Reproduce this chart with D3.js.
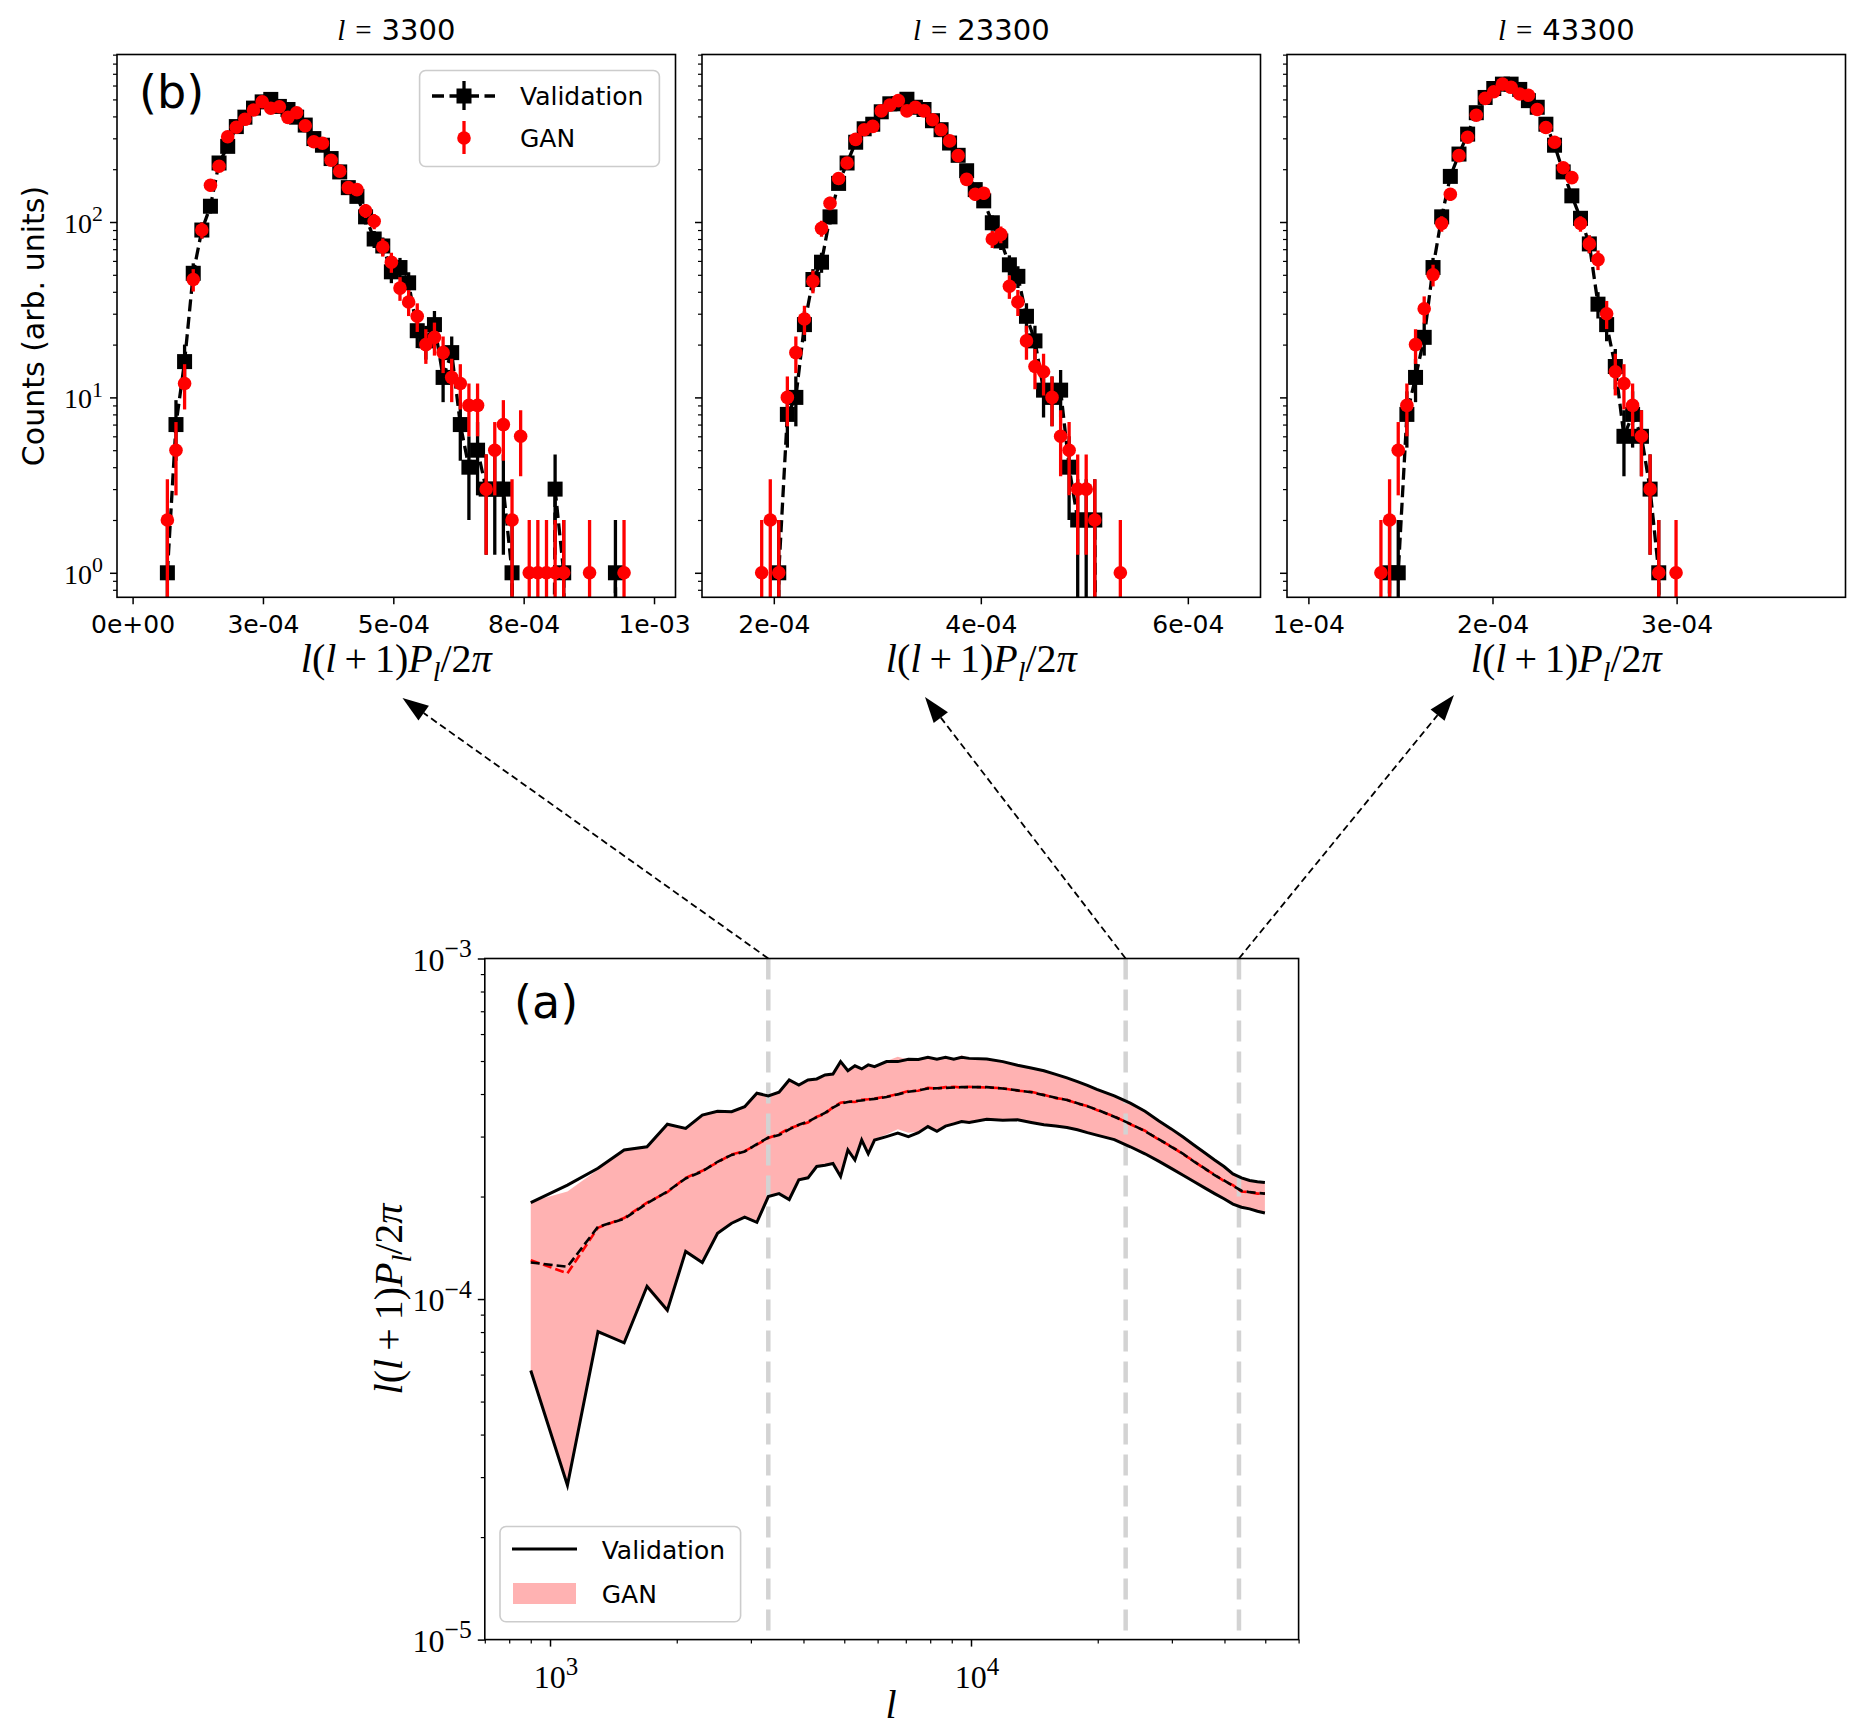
<!DOCTYPE html>
<html><head><meta charset="utf-8">
<script src="https://cdn.jsdelivr.net/npm/d3@7"></script>
<style>body{margin:0;background:#fff}svg{display:block}</style>
</head><body>
<svg id="c" width="1867" height="1731"></svg>
<script>
// ---------------- DATA ----------------
// (b) histograms: bin centres in units of 1e-4, counts per bin
const binUnit = 1e-4;
const panelTitles = ["3300", "23300", "43300"];
const p1Bins = [0.667,0.832,0.997,1.163,1.328,1.493,1.658,1.824,1.989,2.154,
  2.319,2.485,2.650,2.815,2.980,3.146,3.311,3.476,3.641,3.807,
  3.972,4.137,4.302,4.468,4.633,4.798,4.963,5.128,5.294,5.459,
  5.624,5.789,5.955,6.120,6.285,6.450,6.616,6.781,6.946,7.111,
  7.277,7.442,7.607,7.772,7.938,8.103,8.268,8.433,8.599,8.764,
  8.929,9.094,9.260,9.425];
const p1Val = [1,7,16,51,90,123,217,270,350,396,
  446,484,500,456,438,396,357,299,274,230,
  193,157,140,107,80,73,52,55,45,24,
  21,26,13,18,7,4,5,3,3,3,
  1,0,0,0,0,3,1,0,0,0,
  0,0,1,0];
const p1Gan = [2,5,12,47,90,162,208,306,347,385,
  435,485,445,454,395,420,354,287,281,225,
  195,157,153,116,101,72,59,42,35,29,
  20,22,18,13,12,9,9,3,5,7,
  2,6,1,1,1,1,1,0,0,1,
  0,0,0,1];
const p2Bins = [1.883,1.966,2.048,2.131,2.213,2.296,2.378,2.461,2.543,2.626,
  2.708,2.791,2.873,2.956,3.038,3.121,3.203,3.286,3.368,3.451,
  3.533,3.616,3.698,3.781,3.863,3.946,4.028,4.111,4.193,4.276,
  4.358,4.441,4.523,4.606,4.688,4.771,4.853,4.936,5.018,5.101,
  5.183,5.266,5.348];
const p2Val = [0,0,1,8,10,26,47,59,107,166,
  217,285,340,361,425,472,472,501,451,438,
  378,336,282,240,196,153,132,99,78,57,
  49,29,21,11,10,11,4,2,2,2,
  0,0,0];
const p2Gan = [1,2,1,10,18,28,46,92,128,177,
  217,296,336,351,430,464,492,430,451,430,
  383,336,290,239,175,144,146,80,85,43,
  35,21,15,14,10,6,5,3,3,2,
  0,0,1];
const p3Bins = [1.394,1.441,1.488,1.535,1.582,1.629,1.677,1.724,1.771,1.818,
  1.865,1.912,1.960,2.007,2.054,2.101,2.148,2.195,2.243,2.290,
  2.337,2.384,2.431,2.478,2.526,2.573,2.620,2.667,2.714,2.761,
  2.809,2.856,2.903,2.950,2.997];
const p3Val = [0,1,1,8,13,22,55,107,182,244,
  317,420,513,577,611,611,570,492,451,361,
  274,193,141,105,75,34,26,15,6,8,
  6,3,1,0,0];
const p3Gan = [1,2,5,9,20,32,50,98,144,239,
  304,406,507,553,611,586,537,528,438,346,
  285,204,179,98,75,61,30,14,12,9,
  6,3,1,0,1];
const p1TickVals = [0, 2.5e-4, 5e-4, 7.5e-4, 1e-3];
const p1TickLabels = ["0e+00","3e-04","5e-04","8e-04","1e-03"];
const p2TickVals = [2e-4, 4e-4, 6e-4];
const p2TickLabels = ["2e-04","4e-04","6e-04"];
const p3TickVals = [1e-4, 2e-4, 3e-4];
const p3TickLabels = ["1e-04","2e-04","3e-04"];

// (a) power spectrum: multipoles l and bands (units of 1e-4)
const specUnit = 1e-4;
const ells = [900,1100,1300,1500,1700,1900,2100,2300,2500,2700,
  2900,3100,3300,3500,3700,3900,4100,4300,4500,4700,
  4900,5100,5300,5500,5700,5900,6300,6700,7100,7500,
  7900,8300,8700,9100,9500,9900,10900,11900,12900,13900,
  14900,15900,16900,17900,18900,19900,21900,23900,25900,27900,
  29900,31900,33900,35900,37900,39900,41900,43900,45900,47900,
  49900];
const valHi = [1.92,2.16,2.42,2.74,2.80,3.26,3.17,3.47,3.56,3.55,
  3.67,4.02,3.95,4.05,4.40,4.25,4.40,4.43,4.55,4.58,
  4.98,4.68,4.84,4.74,4.87,4.81,4.98,4.98,5.06,5.05,
  5.13,5.06,5.13,5.06,5.13,5.09,5.07,4.98,4.86,4.77,
  4.68,4.57,4.46,4.35,4.24,4.13,3.95,3.76,3.56,3.34,
  3.16,2.99,2.83,2.69,2.56,2.45,2.33,2.27,2.23,2.21,
  2.20];
const valLo = [0.617,0.284,0.802,0.744,1.09,0.928,1.38,1.28,1.56,1.67,
  1.74,1.68,2.00,2.04,1.96,2.24,2.27,2.45,2.47,2.50,
  2.29,2.74,2.56,2.93,2.67,2.93,3.00,3.07,3.00,3.08,
  3.21,3.11,3.22,3.27,3.32,3.30,3.37,3.35,3.36,3.30,
  3.25,3.22,3.19,3.14,3.08,3.03,2.94,2.80,2.67,2.54,
  2.42,2.31,2.21,2.12,2.04,1.97,1.90,1.86,1.84,1.81,
  1.79];
const valMed = [1.28,1.245,1.63,1.72,1.91,2.07,2.26,2.37,2.53,2.65,
  2.71,2.85,2.98,3.03,3.15,3.25,3.32,3.42,3.52,3.65,
  3.75,3.79,3.81,3.83,3.85,3.87,3.92,3.99,4.06,4.10,
  4.15,4.16,4.17,4.18,4.19,4.19,4.19,4.15,4.10,4.05,
  3.97,3.90,3.84,3.76,3.68,3.60,3.43,3.27,3.11,2.95,
  2.80,2.67,2.53,2.42,2.31,2.23,2.15,2.08,2.06,2.05,
  2.04];
const ganHi = [1.93,2.07,2.40,2.76,2.82,3.24,3.20,3.45,3.58,3.53,
  3.69,4.00,3.97,4.08,4.37,4.28,4.42,4.45,4.52,4.60,
  4.95,4.71,4.86,4.77,4.85,4.84,5.00,5.15,5.04,5.08,
  5.11,5.10,5.15,5.08,5.20,5.10,5.05,4.99,4.88,4.76,
  4.67,4.56,4.46,4.36,4.25,4.12,3.94,3.76,3.57,3.35,
  3.16,2.99,2.83,2.69,2.57,2.45,2.34,2.27,2.23,2.21,
  2.20];
const ganLo = [0.615,0.290,0.790,0.750,1.07,0.910,1.36,1.30,1.54,1.69,
  1.72,1.70,1.98,2.06,1.98,2.22,2.29,2.43,2.49,2.48,
  2.31,2.72,2.60,2.90,2.71,2.95,3.04,3.15,3.08,3.10,
  3.19,3.14,3.20,3.29,3.30,3.32,3.36,3.37,3.34,3.31,
  3.26,3.21,3.20,3.13,3.09,3.02,2.95,2.79,2.68,2.53,
  2.43,2.30,2.22,2.11,2.04,1.96,1.91,1.85,1.83,1.81,
  1.78];
const ganMed = [1.30,1.19,1.62,1.73,1.92,2.06,2.27,2.38,2.52,2.66,
  2.72,2.84,2.97,3.05,3.17,3.24,3.30,3.43,3.50,3.66,
  3.77,3.80,3.79,3.85,3.86,3.88,3.93,4.00,4.08,4.09,
  4.17,4.15,4.19,4.20,4.18,4.20,4.18,4.16,4.09,4.06,
  3.98,3.89,3.85,3.75,3.69,3.59,3.44,3.26,3.12,2.94,
  2.81,2.66,2.54,2.41,2.32,2.22,2.16,2.07,2.06,2.04,
  2.04];
const markedEll = [3300, 23300, 43300];
const legendLabels = ["Validation", "GAN"];

// ---------------- DRAWING ----------------
const SANS = "DejaVu Sans", SERIF = "Liberation Serif";
const svg = d3.select("#c");
svg.append("rect").attr("width",1867).attr("height",1731).attr("fill","#fff");
const defs = svg.append("defs");

function mathText(g, x, y, size, parts, anchor, transform, supScale) {
  const ss = supScale || 0.7;
  const t = g.append("text").attr("x", x).attr("y", y).attr("font-size", size)
    .attr("font-family", SERIF).attr("text-anchor", anchor || "middle").attr("fill", "#000");
  if (transform) t.attr("transform", transform);
  let shift = 0;
  parts.forEach(p => {
    const ts = t.append("tspan").text(p.t);
    const target = p.sub ? size * 0.22 : (p.sup ? -size * 0.42 : 0);
    if (target !== shift) { ts.attr("dy", target - shift); shift = target; }
    if (p.i) ts.attr("font-style", "italic");
    if (p.sub || p.sup) ts.attr("font-size", size * ss);
    if (p.f) ts.attr("font-family", p.f);
    if (p.dx) ts.attr("dx", p.dx);
  });
  return t;
}
const xLabelParts = [{t:"l",i:true},{t:"("},{t:"l",i:true},{t:"+",dx:8},{t:"1)",dx:8},
  {t:"P",i:true},{t:"l",i:true,sub:true},{t:"/2"},{t:"π",i:true}];

function minorLog(dom, subs) {
  const out = [];
  for (let e = -8; e <= 6; e++) for (const s of subs) {
    const v = s * Math.pow(10, e);
    if (v >= dom[0] * 0.999 && v <= dom[1] * 1.001) out.push(v);
  }
  return out;
}
function styleAxis(g, w) {
  g.select(".domain").remove();
  g.selectAll(".tick line").attr("stroke", "#000").attr("stroke-width", w || 1.5);
}

// ---- top panels ----
const topY0 = 597.3, topY1 = 54.5;
const topYDom = [0.7249, 901.6];
const panels = [
  {x0:117, x1:675.5, dom:[-2.992e-5, 1.0412e-3], tv:p1TickVals, tl:p1TickLabels, bins:p1Bins, val:p1Val, gan:p1Gan},
  {x0:702, x1:1260.5, dom:[1.3063e-4, 6.702e-4], tv:p2TickVals, tl:p2TickLabels, bins:p2Bins, val:p2Val, gan:p2Gan},
  {x0:1287, x1:1845.5, dom:[0.8838e-4, 3.9174e-4], tv:p3TickVals, tl:p3TickLabels, bins:p3Bins, val:p3Val, gan:p3Gan}
];
const BLACK = "#000", RED = "#ff0000";

panels.forEach((p, pi) => {
  const g = svg.append("g");
  const x = d3.scaleLinear().domain(p.dom).range([p.x0, p.x1]);
  const y = d3.scaleLog().domain(topYDom).range([topY0, topY1]);
  const cid = "clipTop" + pi;
  defs.append("clipPath").attr("id", cid).append("rect")
    .attr("x", p.x0).attr("y", topY1).attr("width", p.x1 - p.x0).attr("height", topY0 - topY1);
  const pg = g.append("g").attr("clip-path", `url(#${cid})`);
  const yc = c => y(c > 0 ? c : 1e-8);
  const valPts = p.bins.map((b, i) => ({x: b * binUnit, c: p.val[i]}));
  const ganPts = p.bins.map((b, i) => ({x: b * binUnit, c: p.gan[i]}));
  // validation
  pg.append("path").datum(valPts)
    .attr("d", d3.line().x(d => x(d.x)).y(d => yc(d.c)))
    .attr("fill", "none").attr("stroke", BLACK).attr("stroke-width", 3.3).attr("stroke-dasharray", "12,5.5");
  pg.selectAll(".ebv").data(valPts.filter(d => d.c > 0)).join("line")
    .attr("x1", d => x(d.x)).attr("x2", d => x(d.x))
    .attr("y1", d => yc(d.c - Math.sqrt(d.c))).attr("y2", d => yc(d.c + Math.sqrt(d.c)))
    .attr("stroke", BLACK).attr("stroke-width", 3.3);
  pg.selectAll(".sqv").data(valPts.filter(d => d.c > 0)).join("rect")
    .attr("x", d => x(d.x) - 7.5).attr("y", d => yc(d.c) - 7.5).attr("width", 15).attr("height", 15)
    .attr("fill", BLACK);
  // GAN
  pg.selectAll(".ebg").data(ganPts.filter(d => d.c > 0)).join("line")
    .attr("x1", d => x(d.x)).attr("x2", d => x(d.x))
    .attr("y1", d => yc(d.c - Math.sqrt(d.c))).attr("y2", d => yc(d.c + Math.sqrt(d.c)))
    .attr("stroke", RED).attr("stroke-width", 3.3);
  pg.selectAll(".cg").data(ganPts.filter(d => d.c > 0)).join("circle")
    .attr("cx", d => x(d.x)).attr("cy", d => yc(d.c)).attr("r", 6.8).attr("fill", RED);
  // frame
  g.append("rect").attr("x", p.x0).attr("y", topY1).attr("width", p.x1 - p.x0).attr("height", topY0 - topY1)
    .attr("fill", "none").attr("stroke", "#000").attr("stroke-width", 1.6);
  // x axis
  const xa = g.append("g").attr("transform", `translate(0,${topY0})`)
    .call(d3.axisBottom(x).tickValues(p.tv).tickSize(7).tickPadding(11).tickFormat((d, i) => p.tl[i]));
  styleAxis(xa);
  xa.selectAll("text").attr("font-family", SANS).attr("font-size", 25).attr("fill", "#000");
  // y axis
  const ya = g.append("g").attr("transform", `translate(${p.x0},0)`)
    .call(d3.axisLeft(y).tickValues([1, 10, 100]).tickSize(7).tickFormat(""));
  styleAxis(ya);
  const ym = g.append("g").attr("transform", `translate(${p.x0},0)`)
    .call(d3.axisLeft(y).tickValues(minorLog(topYDom, [2,3,4,5,6,7,8,9])).tickSize(4).tickFormat(""));
  styleAxis(ym, 1.2);
  if (pi === 0) {
    [[1,"0"],[10,"1"],[100,"2"]].forEach(([v, e]) => {
      mathText(g, p.x0 - 14, y(v) + 11, 28, [{t:"10"},{t:e,sup:true}], "end", null, 0.78);
    });
  }
  // title
  const cx = (p.x0 + p.x1) / 2;
  mathText(g, cx, 40, 29, [{t:"l",i:true},{t:"=",dx:10},{t:panelTitles[pi],f:SANS,dx:10}]);
  // x label
  mathText(g, cx, 672, 40, xLabelParts);
});

// (b) label
svg.append("text").attr("x", 139).attr("y", 108).attr("font-family", SANS).attr("font-size", 46).text("(b)");
// top y label
svg.append("text").attr("transform", "translate(44,326) rotate(-90)").attr("text-anchor", "middle")
  .attr("font-family", SANS).attr("font-size", 30).text("Counts (arb. units)");
// top legend
{
  const lg = svg.append("g");
  lg.append("rect").attr("x", 419.6).attr("y", 70.5).attr("width", 239.8).attr("height", 96).attr("rx", 6)
    .attr("fill", "#fff").attr("fill-opacity", 0.8).attr("stroke", "#cccccc").attr("stroke-width", 1.6);
  lg.append("line").attr("x1", 432).attr("x2", 495).attr("y1", 96).attr("y2", 96)
    .attr("stroke", BLACK).attr("stroke-width", 3.3).attr("stroke-dasharray", "12,5.5");
  lg.append("line").attr("x1", 464).attr("x2", 464).attr("y1", 81).attr("y2", 110).attr("stroke", BLACK).attr("stroke-width", 3.3);
  lg.append("rect").attr("x", 456.5).attr("y", 88.5).attr("width", 15).attr("height", 15).attr("fill", BLACK);
  lg.append("line").attr("x1", 464).attr("x2", 464).attr("y1", 121).attr("y2", 154).attr("stroke", RED).attr("stroke-width", 3.3);
  lg.append("circle").attr("cx", 464).attr("cy", 138).attr("r", 6.8).attr("fill", RED);
  lg.append("text").attr("x", 520).attr("y", 105).attr("font-family", SANS).attr("font-size", 25).text(legendLabels[0]);
  lg.append("text").attr("x", 520).attr("y", 147).attr("font-family", SANS).attr("font-size", 25).text(legendLabels[1]);
}

// ---- bottom panel ----
const bx0 = 484.8, bx1 = 1298.6, by0 = 1639.6, by1 = 958.5;
const xb = d3.scaleLog().domain([700, 60000]).range([bx0, bx1]);
const yb = d3.scaleLog().domain([1e-5, 1e-3]).range([by0, by1]);
const bg = svg.append("g");
defs.append("clipPath").attr("id", "clipB").append("rect")
  .attr("x", bx0).attr("y", by1).attr("width", bx1 - bx0).attr("height", by0 - by1);
const bp = bg.append("g").attr("clip-path", "url(#clipB)");
const spec = ells.map((l, i) => ({l, vh: valHi[i]*specUnit, vl: valLo[i]*specUnit, vm: valMed[i]*specUnit,
  gh: ganHi[i]*specUnit, gl: ganLo[i]*specUnit, gm: ganMed[i]*specUnit}));
bp.append("path").datum(spec)
  .attr("d", d3.area().x(d => xb(d.l)).y0(d => yb(d.gl)).y1(d => yb(d.gh)))
  .attr("fill", "rgba(255,0,0,0.3)").attr("stroke", "none");
markedEll.forEach(l => {
  bp.append("line").attr("x1", xb(l)).attr("x2", xb(l)).attr("y1", by1).attr("y2", by0)
    .attr("stroke", "#d3d3d3").attr("stroke-width", 4.5).attr("stroke-dasharray", "21,10");
});
const ln = key => d3.line().x(d => xb(d.l)).y(d => yb(d[key]));
bp.append("path").datum(spec).attr("d", ln("gm")).attr("fill", "none")
  .attr("stroke", RED).attr("stroke-width", 2.6).attr("stroke-dasharray", "9,4");
bp.append("path").datum(spec).attr("d", ln("vm")).attr("fill", "none")
  .attr("stroke", BLACK).attr("stroke-width", 2.6).attr("stroke-dasharray", "9,4");
["vh", "vl"].forEach(k => bp.append("path").datum(spec).attr("d", ln(k)).attr("fill", "none")
  .attr("stroke", BLACK).attr("stroke-width", 3).attr("stroke-linejoin", "miter"));
bg.append("rect").attr("x", bx0).attr("y", by1).attr("width", bx1 - bx0).attr("height", by0 - by1)
  .attr("fill", "none").attr("stroke", "#000").attr("stroke-width", 1.6);
// axes
const bxa = bg.append("g").attr("transform", `translate(0,${by0})`)
  .call(d3.axisBottom(xb).tickValues([1000, 10000]).tickSize(7).tickFormat(""));
styleAxis(bxa);
const bxm = bg.append("g").attr("transform", `translate(0,${by0})`)
  .call(d3.axisBottom(xb).tickValues(minorLog([700, 60000], [2,3,4,5,6,7,8,9]).filter(v => v >= 700)).tickSize(4).tickFormat(""));
styleAxis(bxm, 1.2);
const bya = bg.append("g").attr("transform", `translate(${bx0},0)`)
  .call(d3.axisLeft(yb).tickValues([1e-5, 1e-4, 1e-3]).tickSize(7).tickFormat(""));
styleAxis(bya);
const bym = bg.append("g").attr("transform", `translate(${bx0},0)`)
  .call(d3.axisLeft(yb).tickValues(minorLog([1e-5, 1e-3], [2,3,4,5,6,7,8,9])).tickSize(4).tickFormat(""));
styleAxis(bym, 1.2);
[[1000,"3"],[10000,"4"]].forEach(([v, e]) => mathText(bg, xb(v) + 6, 1688, 32, [{t:"10"},{t:e,sup:true}], "middle", null, 0.78));
[[1e-3,"−3"],[1e-4,"−4"],[1e-5,"−5"]].forEach(([v, e]) => mathText(bg, bx0 - 13, yb(v) + 12, 32, [{t:"10"},{t:e,sup:true}], "end", null, 0.8));
mathText(bg, 891, 1718, 40, [{t:"l",i:true}]);
mathText(bg, 0, 0, 40, xLabelParts, "middle", "translate(402,1299) rotate(-90)");
bg.append("text").attr("x", 514).attr("y", 1018).attr("font-family", SANS).attr("font-size", 46).text("(a)");
// bottom legend
{
  const lg = bg.append("g");
  lg.append("rect").attr("x", 500).attr("y", 1526.5).attr("width", 240.6).attr("height", 95.2).attr("rx", 6)
    .attr("fill", "#fff").attr("fill-opacity", 0.8).attr("stroke", "#cccccc").attr("stroke-width", 1.6);
  lg.append("line").attr("x1", 512).attr("x2", 577).attr("y1", 1549).attr("y2", 1549).attr("stroke", BLACK).attr("stroke-width", 3);
  lg.append("rect").attr("x", 513).attr("y", 1583).attr("width", 63).attr("height", 21).attr("fill", "rgba(255,0,0,0.3)");
  lg.append("text").attr("x", 601.7).attr("y", 1559).attr("font-family", SANS).attr("font-size", 25).text(legendLabels[0]);
  lg.append("text").attr("x", 601.7).attr("y", 1603).attr("font-family", SANS).attr("font-size", 25).text(legendLabels[1]);
}
// connecting arrows
const arrowTips = [[402.5, 698], [925, 697], [1454, 695]];
markedEll.forEach((l, i) => {
  const sx = xb(l), sy = by1;
  const [tx, ty] = arrowTips[i];
  const dx = tx - sx, dy = ty - sy, len = Math.hypot(dx, dy);
  const ux = dx / len, uy = dy / len, hl = 26, hw = 9;
  const bxp = tx - ux * hl, byp = ty - uy * hl;
  svg.append("line").attr("x1", sx).attr("y1", sy).attr("x2", bxp).attr("y2", byp)
    .attr("stroke", "#000").attr("stroke-width", 1.8).attr("stroke-dasharray", "7,4");
  svg.append("path").attr("d", `M${tx},${ty}L${bxp - uy*hw},${byp + ux*hw}L${bxp + uy*hw},${byp - ux*hw}Z`)
    .attr("fill", "#000");
});
</script>
</body></html>
